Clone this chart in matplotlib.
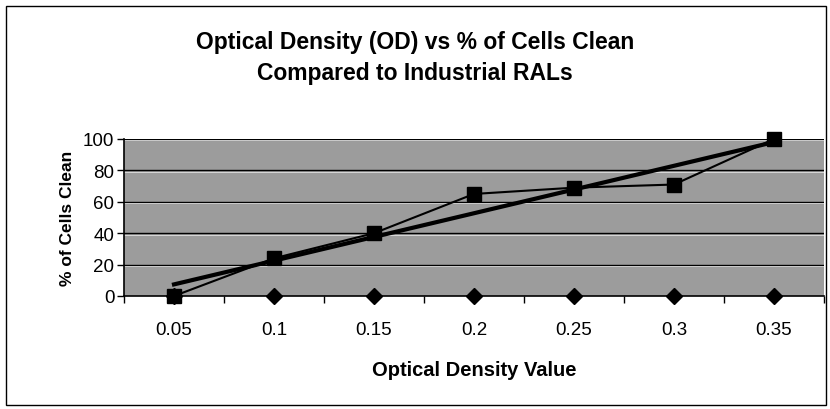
import numpy as np
import matplotlib
matplotlib.use("Agg")
import matplotlib.pyplot as plt
from matplotlib.patches import Rectangle

# chart data
categories = ["0.05", "0.1", "0.15", "0.2", "0.25", "0.3", "0.35"]
pct_clean = [0, 24, 40, 65, 69, 71, 100]
baseline = [0, 0, 0, 0, 0, 0, 0]

plt.rcParams["font.family"] = ["Liberation Sans", "DejaVu Sans"]

fig = plt.figure(figsize=(8.3, 4.1), dpi=100)
ax = fig.add_axes([124 / 830, 113 / 410, 700 / 830, 157 / 410])

x = np.arange(len(categories))

# linear trendline through the % clean series
coef = np.polyfit(x, pct_clean, 1)
trend = np.polyval(coef, x)

ax.set_facecolor("#9c9c9c")
for g in [20, 40, 60, 80, 100]:
    ax.axhline(g, color="black", lw=1.0, zorder=1)
    ax.axhline(g - 0.9, color="white", lw=0.6, alpha=0.7, zorder=1)

ax.plot(x, baseline, marker="D", color="black", ms=8, lw=0, clip_on=False, zorder=4)
ax.plot(x, pct_clean, marker="s", color="black", ms=10, lw=1.5, clip_on=False, zorder=4)
ax.plot(x, trend, color="black", lw=3, zorder=3)

ax.set_xlim(-0.5, len(categories) - 0.5)
ax.set_ylim(0, 100)
ax.set_yticks([0, 20, 40, 60, 80, 100])
ax.set_xticks(x)
ax.set_xticklabels(categories, fontsize=13.5)
ax.set_xticks(np.arange(len(categories) + 1) - 0.5, minor=True)
ax.tick_params(axis="x", which="major", length=0, pad=18)
ax.tick_params(axis="x", which="minor", length=5, width=1, direction="out")
ax.tick_params(axis="y", length=5, width=1, labelsize=13.5, pad=2)

for side in ["top", "right"]:
    ax.spines[side].set_visible(False)
ax.spines["left"].set_linewidth(1.2)
ax.spines["bottom"].set_linewidth(1.2)

ax.set_xlabel("Optical Density Value", fontsize=14.5, fontweight="bold", labelpad=16)
ax.set_ylabel("% of Cells Clean", fontsize=12.5, fontweight="bold", labelpad=6)

fig.text(0.5, 1 - 42 / 410, "Optical Density (OD) vs % of Cells Clean",
         ha="center", va="center", fontsize=16.5, fontweight="bold")
fig.text(0.5, 1 - 74 / 410, "Compared to Industrial RALs",
         ha="center", va="center", fontsize=16.5, fontweight="bold")

# outer chart frame
fig.patches.append(Rectangle((6 / 830, 4 / 410), 820 / 830, 399 / 410,
                             transform=fig.transFigure, fill=False,
                             edgecolor="black", lw=1.0))

fig.savefig("out.png", dpi=100)
